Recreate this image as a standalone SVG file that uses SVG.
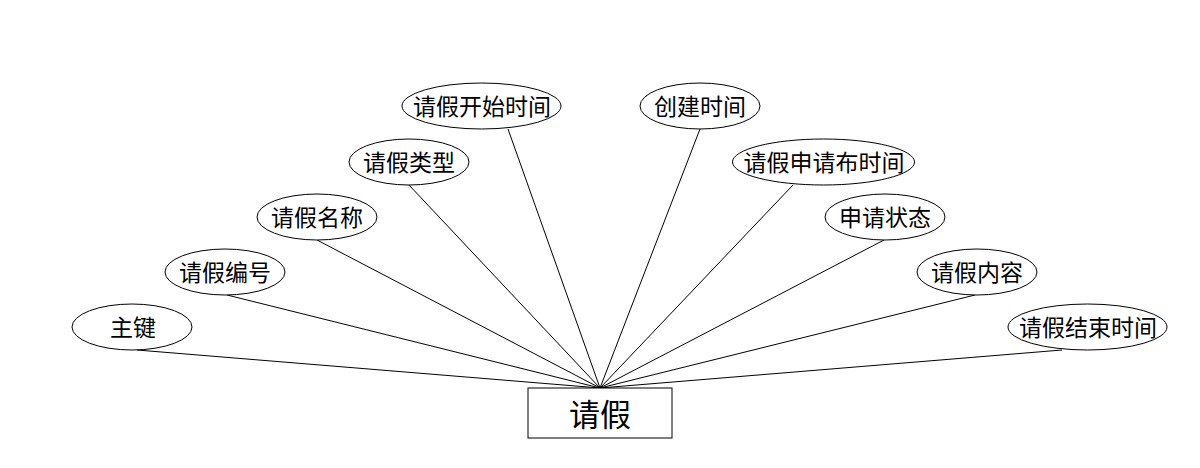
<svg xmlns="http://www.w3.org/2000/svg" width="1200" height="468" viewBox="0 0 1200 468">
<style>
.attr ellipse{fill:#fff;stroke:#000;stroke-width:1}
.lbl{font-family:"Noto Sans CJK SC","Noto Sans",sans-serif;font-size:23px;fill:#000;text-anchor:middle;dominant-baseline:central}
.big{font-size:31px}
#connectors line{stroke:#000;stroke-width:1}
</style>
<rect width="1200" height="468" fill="#fff"/>
<g id="connectors">
<line x1="137" y1="350" x2="600" y2="388"/>
<line x1="227" y1="295" x2="600" y2="388"/>
<line x1="317" y1="240" x2="600" y2="388"/>
<line x1="409" y1="185" x2="600" y2="388"/>
<line x1="508" y1="129" x2="600" y2="388"/>
<line x1="700" y1="129" x2="600" y2="388"/>
<line x1="793" y1="185" x2="600" y2="388"/>
<line x1="884" y1="240" x2="600" y2="388"/>
<line x1="975" y1="295" x2="600" y2="388"/>
<line x1="1062" y1="350" x2="600" y2="388"/>
</g>
<g id="entity">
<rect x="528" y="388" width="144" height="50" fill="#fff" stroke="#000"/>
<text class="lbl big" x="600" y="412">请假</text>
</g>
<g id="a1" class="attr"><ellipse cx="132" cy="327" rx="60" ry="23"/><text class="lbl" x="133" y="326">主键</text></g>
<g id="a2" class="attr"><ellipse cx="225" cy="272" rx="60" ry="23"/><text class="lbl" x="225" y="271">请假编号</text></g>
<g id="a3" class="attr"><ellipse cx="317" cy="217" rx="60" ry="23"/><text class="lbl" x="317" y="216">请假名称</text></g>
<g id="a4" class="attr"><ellipse cx="409" cy="162" rx="60" ry="23"/><text class="lbl" x="409" y="161">请假类型</text></g>
<g id="a5" class="attr"><ellipse cx="481.5" cy="106" rx="79.5" ry="23"/><text class="lbl" x="482" y="105">请假开始时间</text></g>
<g id="a6" class="attr"><ellipse cx="700" cy="106" rx="60" ry="23"/><text class="lbl" x="700" y="105">创建时间</text></g>
<g id="a7" class="attr"><ellipse cx="823.5" cy="162" rx="91" ry="23"/><text class="lbl" x="824" y="161">请假申请布时间</text></g>
<g id="a8" class="attr"><ellipse cx="885" cy="217" rx="60" ry="23"/><text class="lbl" x="885" y="216">申请状态</text></g>
<g id="a9" class="attr"><ellipse cx="977" cy="272" rx="60" ry="23"/><text class="lbl" x="977" y="271">请假内容</text></g>
<g id="a10" class="attr"><ellipse cx="1087.5" cy="327" rx="79.5" ry="23"/><text class="lbl" x="1088" y="326">请假结束时间</text></g>
</svg>
